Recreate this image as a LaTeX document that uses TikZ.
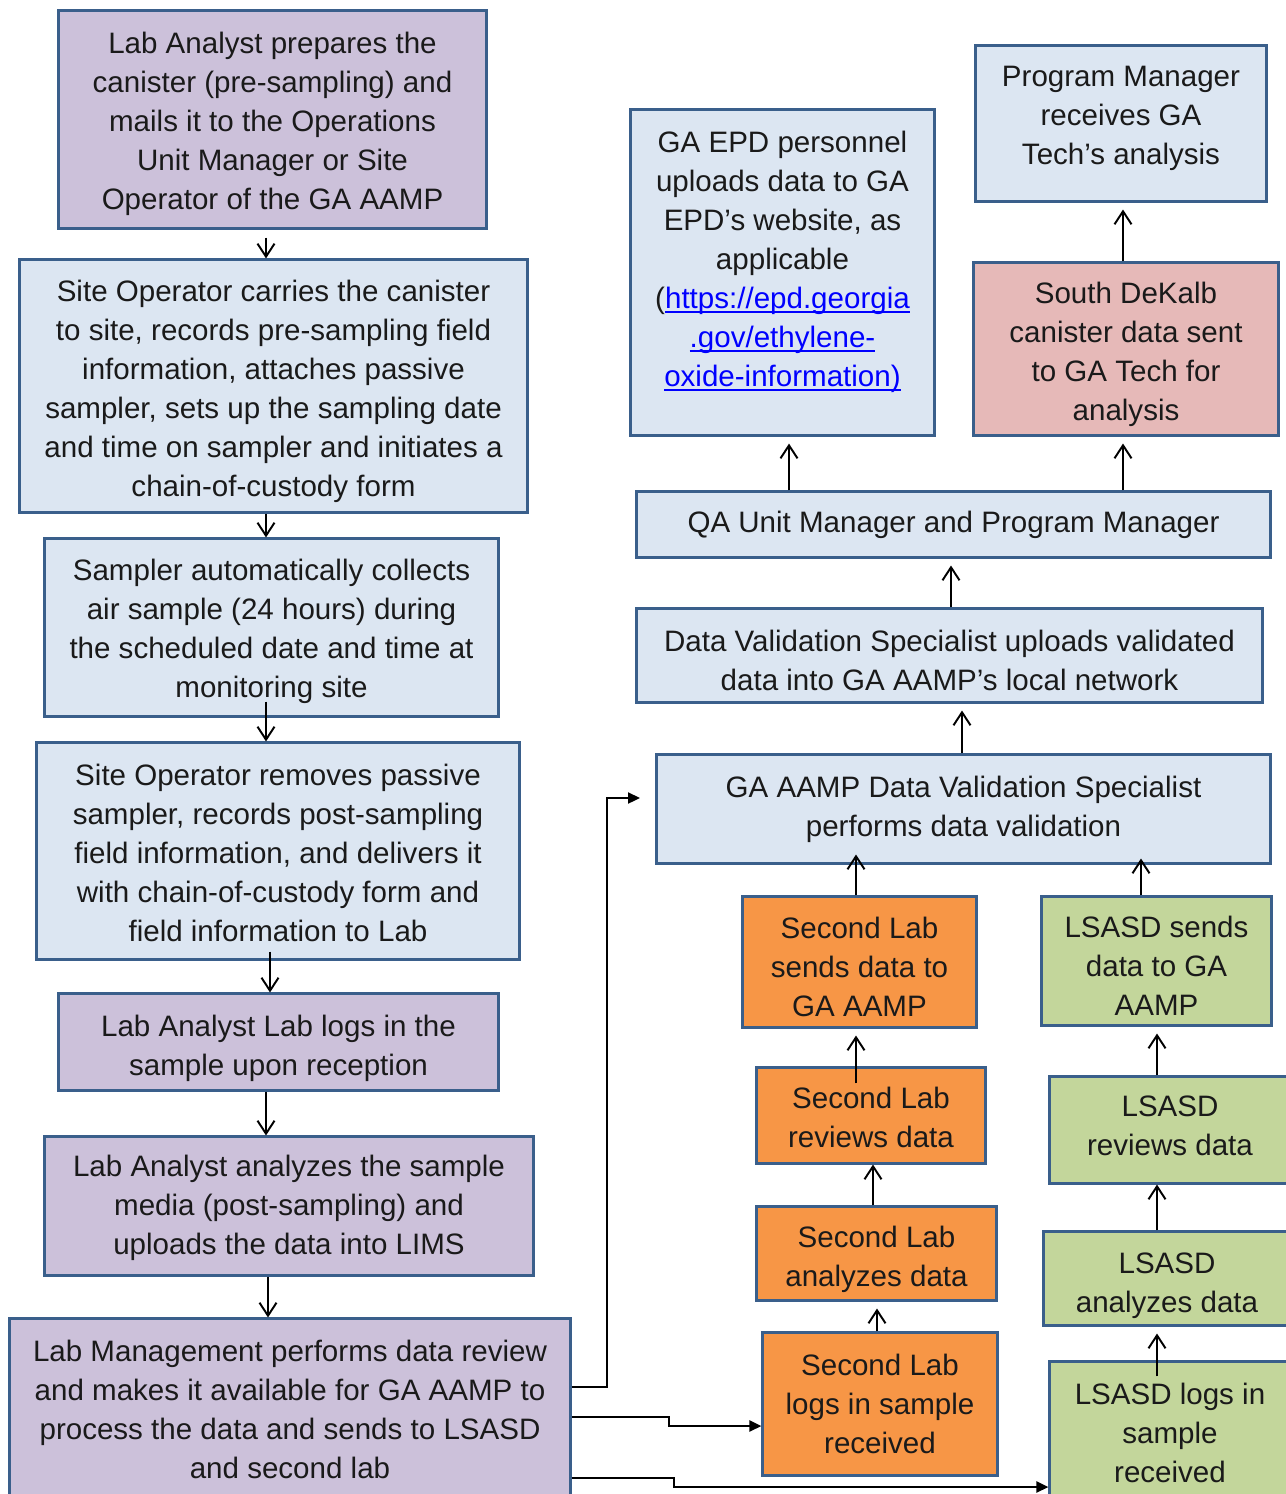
\documentclass[tikz,border=0pt]{standalone}
\usepackage{fontspec}
\setmainfont{Liberation Sans}
\usetikzlibrary{arrows.meta,calc}

\definecolor{boxline}{HTML}{3A5F8B}
\definecolor{lblue}{HTML}{DCE6F2}
\definecolor{lpurple}{HTML}{CCC1DA}
\definecolor{lpink}{HTML}{E6B9B8}
\definecolor{lorange}{HTML}{F79646}
\definecolor{lgreen}{HTML}{C3D69B}
\definecolor{linkblue}{HTML}{0000FF}
\definecolor{txt}{HTML}{1A1A1A}

\newcommand\weblink[1]{\textcolor{linkblue}{\setbox0\hbox{#1}\rlap{\rule[-1.3pt]{\wd0}{0.55pt}}\box0}}
\newcommand\toppad[1]{\rule{0pt}{#1}}

\tikzset{
	stepbox/.style={draw=boxline,line width=0.85pt,inner sep=0pt,align=center,
		text=txt,font=\fontsize{8.4}{11.1}\selectfont},
	bluebx/.style={stepbox,fill=lblue},
	purplebx/.style={stepbox,fill=lpurple},
	pinkbx/.style={stepbox,fill=lpink},
	orangebx/.style={stepbox,fill=lorange},
	greenbx/.style={stepbox,fill=lgreen},
	tup/.style={execute at end node={\rule[-#1]{0pt}{#1}}},
	dnarr/.style={-{Straight Barb[length=1.3mm,width=1.7mm]},line width=0.55pt},
	uparr/.style={dnarr,shorten >=0.07cm},
	elbow/.style={-{Triangle[length=1.2mm,width=1.1mm]},line width=0.65pt}
}

\begin{document}
\begin{tikzpicture}[x=0.01cm,y=-0.01cm]
	    \useasboundingbox(0,0)rectangle(1286,1494);

	    % left column
	    \node[purplebx,minimum width=4.27cm,minimum height=2.17cm](la1)at(272.5,119.5){\toppad{8.4pt}Lab Analyst prepares the\\canister (pre-sampling) and\\mails it to the Operations\\Unit Manager or Site\\Operator of the GA AAMP};
	    \node[bluebx,minimum width=5.07cm,minimum height=2.52cm](so1)at(273.5,386){\toppad{9pt}Site Operator carries the canister\\to site, records pre-sampling field\\information, attaches passive\\sampler, sets up the sampling date\\and time on sampler and initiates a\\chain-of-custody form};
	    \node[bluebx,minimum width=4.53cm,minimum height=1.77cm](samp)at(271.5,627.5){\toppad{8.4pt}Sampler automatically collects\\air sample (24 hours) during\\the scheduled date and time at\\monitoring site};
	    \node[bluebx,minimum width=4.82cm,minimum height=2.16cm](so2)at(278,851){\toppad{7.2pt}Site Operator removes passive\\sampler, records post-sampling\\field information, and delivers it\\with chain-of-custody form and\\field information to Lab};
	    \node[purplebx,minimum width=4.39cm,minimum height=0.96cm](la2)at(278.5,1042){\toppad{9.5pt}Lab Analyst Lab logs in the\\sample upon reception};
	    \node[purplebx,minimum width=4.88cm,minimum height=1.38cm](la3)at(289,1206){\toppad{7.2pt}Lab Analyst analyzes the sample\\media (post-sampling) and\\uploads the data into LIMS};
	    \node[purplebx,minimum width=5.60cm,minimum height=1.80cm](lm)at(290,1409){Lab Management performs data review\\and makes it available for GA AAMP to\\process the data and sends to LSASD\\and second lab};

	    % right column
	    \node[bluebx,tup=7.7pt,minimum width=3.03cm,minimum height=3.25cm](epd)at(782.5,272.5){GA EPD personnel\\uploads data to GA\\EPD’s website, as\\applicable\\(\weblink{https://epd.georgia}\\\weblink{.gov/ethylene-}\\\weblink{oxide-information)}};
	    \node[bluebx,tup=4.8pt,minimum width=2.90cm,minimum height=1.55cm](pm)at(1121,123.5){Program Manager\\receives GA\\Tech’s analysis};
	    \node[pinkbx,minimum width=3.04cm,minimum height=1.72cm](sd)at(1126,349){\toppad{9pt}South DeKalb\\canister data sent\\to GA Tech for\\analysis};
	    \node[bluebx,minimum width=6.33cm,minimum height=0.65cm](qa)at(953.5,524.5){QA Unit Manager and Program Manager};
	    \node[bluebx,minimum width=6.25cm,minimum height=0.93cm](dvs1)at(949.5,655.5){\toppad{9pt}Data Validation Specialist uploads validated\\data into GA AAMP’s local network};
	    \node[bluebx,minimum width=6.13cm,minimum height=1.08cm](dvs2)at(963.5,809){GA AAMP Data Validation Specialist\\performs data validation};

	    \node[orangebx,minimum width=2.33cm,minimum height=1.30cm](slsend)at(859.5,962){\toppad{9pt}Second Lab\\sends data to\\GA AAMP};
	    \node[orangebx,minimum width=2.28cm,minimum height=0.95cm](slrev)at(871,1115.5){\toppad{7.2pt}Second Lab\\reviews data};
	    \node[orangebx,minimum width=2.39cm,minimum height=0.93cm](slana)at(876.5,1253.5){\toppad{9.5pt}Second Lab\\analyzes data};
	    \node[orangebx,minimum width=2.34cm,minimum height=1.42cm](sllog)at(880,1404){Second Lab\\logs in sample\\received};

	    \node[greenbx,minimum width=2.29cm,minimum height=1.28cm](lssend)at(1156.5,961){\toppad{9pt}LSASD sends\\data to GA\\AAMP};
	    \node[greenbx,tup=2.3pt,minimum width=2.40cm,minimum height=1.06cm](lsrev)at(1170,1130){LSASD\\reviews data};
	    \node[greenbx,minimum width=2.46cm,minimum height=0.93cm](lsana)at(1167,1278.5){\toppad{10.1pt}LSASD\\analyzes data};
	    \node[greenbx,minimum width=2.40cm,minimum height=1.42cm](lslog)at(1170,1433){LSASD logs in\\sample\\received};

	    \coordinate(xl)at(266,0);
	    \coordinate(xe)at(789,0);
	    \coordinate(xs)at(1123,0);
	    \coordinate(xq)at(951,0);
	    \coordinate(xv)at(962,0);
	    \coordinate(xo)at(856,0);
	    \coordinate(xo2)at(875,0);
	    \coordinate(xg)at(1141,0);
	    \coordinate(xg2)at(1157,0);
	    \coordinate(dvsin)at(640,798);

	    \draw[dnarr,shorten <=0.08cm](la1.south -| xl)--(so1.north -| xl);
	    \draw[dnarr](so1.south -| xl)--(samp.north -| xl);
	    \draw[dnarr]($(samp.south -| xl)+(0,-16)$)--(so2.north -| xl);
	    \draw[dnarr]($(so2.south -| xl)+(4,-9)$)--($(la2.north -| xl)+(4,0)$);
	    \draw[dnarr](la2.south -| xl)--(la3.north -| xl);
	    \draw[dnarr]($(la3.south -| xl)+(2,0)$)--($(lm.north -| xl)+(2,0)$);

	    \draw[uparr](qa.north -| xe)--(epd.south -| xe);
	    \draw[uparr](qa.north -| xs)--(sd.south -| xs);
	    \draw[uparr](sd.north -| xs)--(pm.south -| xs);
	    \draw[uparr](dvs1.north -| xq)--(qa.south -| xq);
	    \draw[uparr](dvs2.north -| xv)--(dvs1.south -| xv);
	    \draw[dnarr,shorten >=-0.1cm](slsend.north -| xo)--(dvs2.south -| xo);
	    \draw[dnarr,shorten >=-0.06cm](lssend.north -| xg)--(dvs2.south -| xg);
	    \draw[uparr]($(slrev.north -| xo)+(0,17)$)--(slsend.south -| xo);
	    \draw[dnarr]($(slana.north -| xo2)+(-2,0)$)--($(slrev.south -| xo2)+(-2,0)$);
	    \draw[uparr]($(sllog.north -| xo2)+(2,0)$)--($(slana.south -| xo2)+(2,0)$);
	    \draw[uparr](lsrev.north -| xg2)--(lssend.south -| xg2);
	    \draw[dnarr](lsana.north -| xg2)--(lsrev.south -| xg2);
	    \draw[uparr]($(lslog.north -| xg2)+(0,16)$)--(lsana.south -| xg2);

	    \draw[elbow]($(lm.east)+(0,-22)$)--++(35,0)|-(dvsin);
	    \draw[elbow]($(lm.east)+(0,8)$)--++(97,0)|-($(sllog.west)+(0,22)$);
	    \draw[elbow]($(lm.east)+(0,69)$)--++(102,0)|-($(lslog.west)+(0,54)$);
\end{tikzpicture}
\end{document}
